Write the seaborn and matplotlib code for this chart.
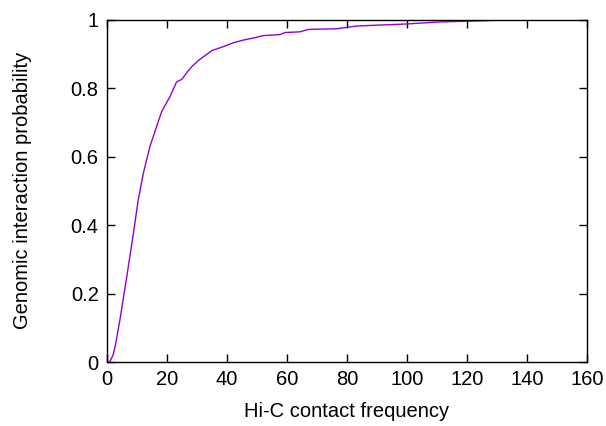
import pandas as pd
import matplotlib
matplotlib.use("Agg")
import matplotlib.pyplot as plt
import seaborn as sns

# CDF of Hi-C contact frequency
contact_freq = [0, 1, 2, 2.7, 4.3, 6.6, 8.8, 10.4, 12.1, 14.3, 18.2, 21, 23.2, 24.9,
                26.6, 28.2, 30.4, 34.9, 38.8, 42.1, 45.4, 48.8, 52.1, 57.7, 59.3,
                64.3, 67.1, 76.6, 83.2, 99.9, 111, 119.9, 131, 145, 160]
probability = [0, 0.002, 0.02, 0.045, 0.123, 0.25, 0.376, 0.473, 0.551, 0.629, 0.731,
               0.775, 0.818, 0.825, 0.845, 0.862, 0.880, 0.909, 0.921, 0.932, 0.940,
               0.946, 0.953, 0.956, 0.962, 0.964, 0.971, 0.973, 0.981, 0.987, 0.993,
               0.995, 0.998, 1.0, 1.0]
x_ticks = [0, 20, 40, 60, 80, 100, 120, 140, 160]
y_ticks = [0, 0.2, 0.4, 0.6, 0.8, 1]

df = pd.DataFrame({"freq": contact_freq, "prob": probability})

sns.set_style("ticks")
plt.rcParams["font.family"] = ["Liberation Sans", "DejaVu Sans"]
plt.rcParams["text.color"] = "black"
plt.rcParams["xtick.labelcolor"] = "black"
plt.rcParams["ytick.labelcolor"] = "black"
plt.rcParams["axes.labelcolor"] = "black"

fig = plt.figure(figsize=(6.06, 4.26), dpi=100)
ax = fig.add_axes([0.1766, 0.1502, 0.792, 0.804])

sns.lineplot(x="freq", y="prob", data=df, color="#9400D3", linewidth=1, ax=ax)

ax.set_xlim(0, 160)
ax.set_ylim(0, 1)
ax.set_xticks(x_ticks)
ax.set_yticks(y_ticks)
ax.set_xticklabels([str(t) for t in x_ticks])
ax.set_yticklabels(["%g" % t for t in y_ticks])
ax.tick_params(direction="in", length=6, width=1, top=True, right=True,
               labelsize=14.5, color="black", labelcolor="black", pad=6)
for s in ax.spines.values():
    s.set_visible(True)
    s.set_linewidth(1)
    s.set_color("black")

ax.set_xlabel("Hi-C contact frequency", fontsize=14.5, labelpad=9)
ax.set_ylabel("Genomic interaction probability", fontsize=14.5, labelpad=28)

fig.savefig("out.png", dpi=100)
